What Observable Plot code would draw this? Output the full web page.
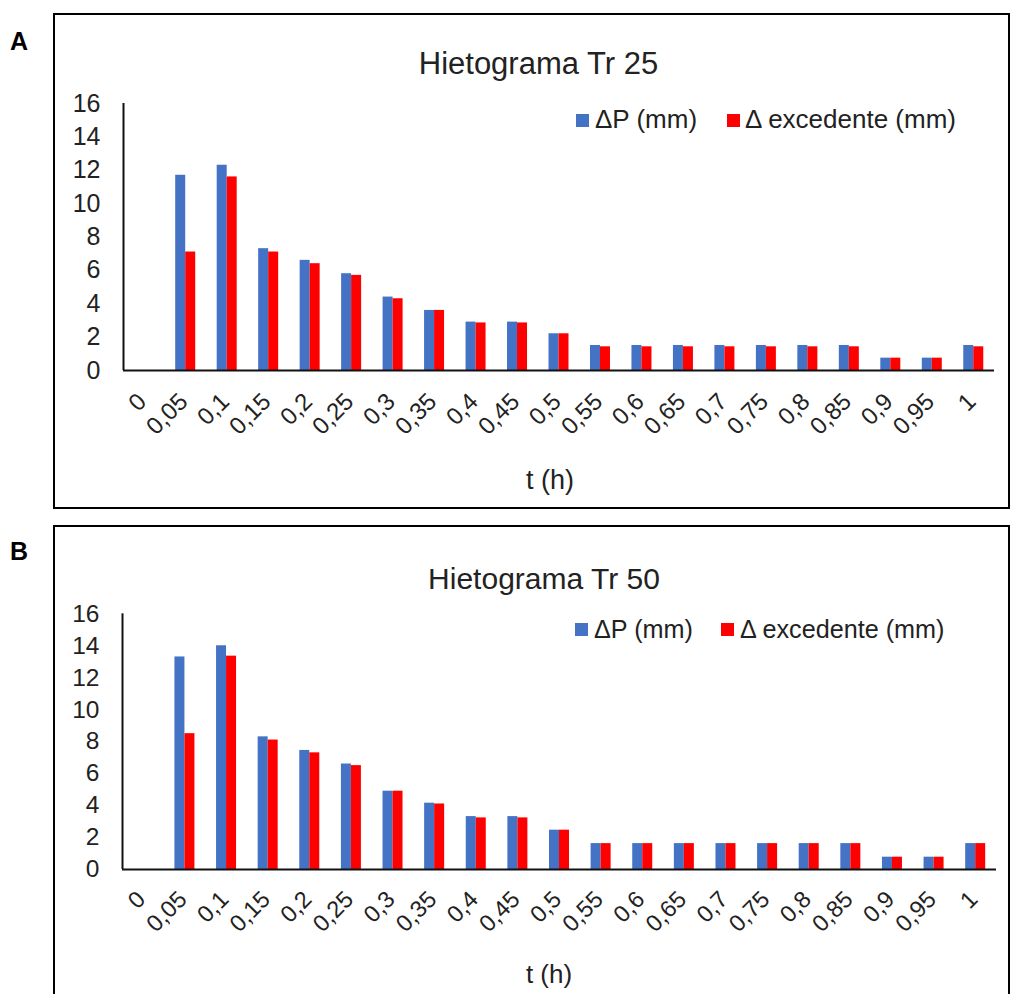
<!DOCTYPE html>
<html>
<head>
<meta charset="utf-8">
<script src="https://cdn.jsdelivr.net/npm/d3@7"></script>
<script src="https://cdn.jsdelivr.net/npm/@observablehq/plot@0.6"></script>
<style>
  html, body { margin: 0; padding: 0; background: #fff; }
  body { width: 1010px; height: 994px; position: relative; overflow: hidden;
         font-family: "Liberation Sans", Arial, sans-serif; color: #222; }
  .abs { position: absolute; line-height: 1; white-space: nowrap; }
  .frame { position: absolute; border: 2px solid #000; box-sizing: border-box; }
  .sw { position: absolute; width: 13px; height: 13px; }
</style>
</head>
<body>
<script>
// ---- data ----
const tLabels = ["0","0,05","0,1","0,15","0,2","0,25","0,3","0,35","0,4","0,45","0,5",
                 "0,55","0,6","0,65","0,7","0,75","0,8","0,85","0,9","0,95","1"];
const yTicks = [0, 2, 4, 6, 8, 10, 12, 14, 16];

const dP25  = [0, 11.7, 12.3, 7.3, 6.6, 5.8, 4.4, 3.6, 2.9, 2.9, 2.2,
               1.5, 1.5, 1.5, 1.5, 1.5, 1.5, 1.5, 0.74, 0.74, 1.5];
const exc25 = [0, 7.1, 11.6, 7.1, 6.4, 5.7, 4.3, 3.6, 2.85, 2.85, 2.2,
               1.42, 1.42, 1.42, 1.42, 1.42, 1.42, 1.42, 0.74, 0.74, 1.42];

const dP50  = [0, 13.3, 14.0, 8.3, 7.45, 6.6, 4.9, 4.15, 3.31, 3.31, 2.46,
               1.62, 1.62, 1.62, 1.62, 1.62, 1.62, 1.62, 0.77, 0.77, 1.62];
const exc50 = [0, 8.5, 13.35, 8.1, 7.3, 6.5, 4.9, 4.1, 3.23, 3.23, 2.46,
               1.62, 1.62, 1.62, 1.62, 1.62, 1.62, 1.62, 0.77, 0.77, 1.62];

const seriesNames = ["ΔP (mm)", "Δ excedente (mm)"];
const colors = ["#4472C4", "#FF0000"];

// ---- helpers ----
function txt(s, x, base, fs, opts = {}) {
  const d = document.createElement("div");
  d.className = "abs";
  d.textContent = s;
  d.style.fontSize = fs + "px";
  d.style.top = (base - 0.8465 * fs) + "px";
  d.style.left = x + "px";
  if (opts.center) d.style.transform = "translateX(-50%)";
  if (opts.bold) d.style.fontWeight = "bold";
  if (opts.color) d.style.color = opts.color;
  document.body.appendChild(d);
}
function box(cls, l, t, w, h, bg) {
  const d = document.createElement("div");
  d.className = cls;
  d.style.left = l + "px"; d.style.top = t + "px";
  d.style.width = w + "px"; d.style.height = h + "px";
  if (bg) d.style.background = bg;
  document.body.appendChild(d);
}

function panel(dp, ex, c) {
  const rows = tLabels.map((t, i) => ({t, dp: dp[i], ex: ex[i]}));
  const bw = (c.x1 - c.x0) / tLabels.length;
  const barW = 10;
  const chart = Plot.plot({
    width: 1010,
    height: c.h,
    marginLeft: c.x0,
    marginRight: 1010 - c.x1,
    marginTop: c.yTop,
    marginBottom: c.h - c.yBase,
    style: {background: "transparent", overflow: "visible",
            fontFamily: "'Liberation Sans', Arial, sans-serif", color: "#222"},
    x: {domain: tLabels, padding: 0, round: false, label: null},
    y: {domain: [0, 16], label: null},
    marks: [
      Plot.barY(rows, {x: "t", y: "dp", fill: colors[0],
        insetLeft: bw / 2 - barW, insetRight: bw / 2}),
      Plot.barY(rows, {x: "t", y: "ex", fill: colors[1],
        insetLeft: bw / 2, insetRight: bw / 2 - barW}),
      Plot.ruleY([0], {stroke: "#111", strokeWidth: 2}),
      Plot.ruleX([tLabels[0]], {y1: 0, y2: 16, dx: -bw / 2, stroke: "#111", strokeWidth: 2}),
      Plot.axisY({ticks: yTicks, tickSize: 0, tickPadding: 23, fontSize: c.yFs,
        tickFormat: d => String(d), fill: "#222", label: null}),
      Plot.axisX({tickSize: 0, tickRotate: -45, tickPadding: c.xPad, dx: -2,
        textAnchor: "end", lineAnchor: "middle", fontSize: c.xFs, fill: "#222", label: null})
    ]
  });
  chart.style.position = "absolute";
  chart.style.left = "0px";
  chart.style.top = c.top + "px";
  document.body.appendChild(chart);
}

// ---- frames ----
box("frame", 53, 13, 957, 496);
box("frame", 53, 525, 957, 480);

// ---- panel A ----
txt("A", 10, 50, 25, {bold: true, color: "#000"});
txt("Hietograma Tr 25", 538.5, 74, 31, {center: true});
box("sw", 576, 114, 13, 13, colors[0]);
txt(seriesNames[0], 595, 128, 26);
box("sw", 727, 114, 13, 13, colors[1]);
txt(seriesNames[1], 745, 128, 26);
panel(dP25, exc25, {top: 0, h: 508, x0: 123, x1: 994, yTop: 103, yBase: 370, yFs: 25, xFs: 24, xPad: 27});
txt("t (h)", 550, 490, 27, {center: true});

// ---- panel B ----
txt("B", 10, 560, 25, {bold: true, color: "#000"});
txt("Hietograma Tr 50", 544, 589, 30, {center: true});
box("sw", 575, 623, 13, 13, colors[0]);
txt(seriesNames[0], 594, 638, 25.2);
box("sw", 721, 623, 13, 13, colors[1]);
txt(seriesNames[1], 740, 638, 25.2);
panel(dP50, exc50, {top: 520, h: 474, x0: 122, x1: 996, yTop: 93.3, yBase: 349, yFs: 24.5, xFs: 23.5, xPad: 26});
txt("t (h)", 549, 983, 26, {center: true});
</script>
</body>
</html>
